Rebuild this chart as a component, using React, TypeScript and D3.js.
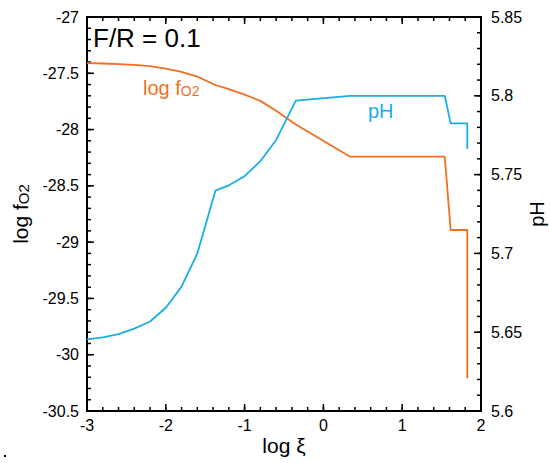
import React from "react";
import * as d3 from "d3";

const xiValues = [-3, -2.8, -2.6, -2.4, -2.2, -2.0, -1.8, -1.6, -1.37, -1.2, -1.0, -0.8, -0.6, -0.35, 0.34, 1.54, 1.615, 1.826, 1.826];
const logFO2Values = [-27.41, -27.413, -27.418, -27.425, -27.437, -27.458, -27.488, -27.53, -27.604, -27.64, -27.69, -27.745, -27.832, -27.955, -28.241, -28.241, -28.892, -28.892, -30.21];
const pHValues = [5.6455, 5.6467, 5.6488, 5.6523, 5.6568, 5.6655, 5.6789, 5.70, 5.7398, 5.7432, 5.749, 5.7585, 5.772, 5.7969, 5.8, 5.8, 5.7825, 5.7825, 5.7662];

const xMajorTicks = [-3, -2, -1, 0, 1, 2];
const xTickLabels = ["-3", "-2", "-1", "0", "1", "2"];
const leftMajorTicks = [-27, -27.5, -28, -28.5, -29, -29.5, -30, -30.5];
const leftTickLabels = ["-27", "-27.5", "-28", "-28.5", "-29", "-29.5", "-30", "-30.5"];
const rightMajorTicks = [5.85, 5.8, 5.75, 5.7, 5.65, 5.6];
const rightTickLabels = ["5.85", "5.8", "5.75", "5.7", "5.65", "5.6"];

const ORANGE = "#F0701F";
const BLUE = "#1AADE6";
const FONT = "'Liberation Sans', Arial, Helvetica, sans-serif";

export default function App() {
  const W = 550, H = 463;
  const L = 87, R = 481, T = 17, B = 411;
  const x = d3.scaleLinear().domain([-3, 2]).range([L, R]);
  const yL = d3.scaleLinear().domain([-30.5, -27]).range([B, T]);
  const yR = d3.scaleLinear().domain([5.6, 5.85]).range([B, T]);

  const idx = d3.range(xiValues.length);
  const fo2Line = d3.line<number>().x(i => x(xiValues[i])).y(i => yL(logFO2Values[i]))(idx) || "";
  const phLine = d3.line<number>().x(i => x(xiValues[i])).y(i => yR(pHValues[i]))(idx) || "";

  const xMinor = d3.range(-3, 2.0001, 0.2).map(v => +v.toFixed(3));
  const leftMinor = d3.range(-30.5, -26.9999, 0.1).map(v => +v.toFixed(3));
  const rightMinor = d3.range(5.6, 5.85001, 0.01).map(v => +v.toFixed(3));

  const MAJ = 7, MIN = 4;
  const tickStyle = { stroke: "#000", strokeWidth: 1.5 };

  return (
    <svg width={W} height={H} style={{ position: "absolute", left: 0, top: 0, background: "#fff" }} fontFamily={FONT}>
      <rect x={0} y={0} width={W} height={H} fill="#fff" />
      {xMinor.map((v, i) => (
        <g key={"xm" + i}>
          <line x1={x(v)} x2={x(v)} y1={B} y2={B - MIN} {...tickStyle} />
          <line x1={x(v)} x2={x(v)} y1={T} y2={T + MIN} {...tickStyle} />
        </g>
      ))}
      {xMajorTicks.map((v, i) => (
        <g key={"xM" + i}>
          <line x1={x(v)} x2={x(v)} y1={B} y2={B - MAJ} {...tickStyle} />
          <line x1={x(v)} x2={x(v)} y1={T} y2={T + MAJ} {...tickStyle} />
          <text x={x(v)} y={B + 20} textAnchor="middle" fontSize={16}>{xTickLabels[i]}</text>
        </g>
      ))}
      {leftMinor.map((v, i) => (
        <line key={"lm" + i} x1={L} x2={L + MIN} y1={yL(v)} y2={yL(v)} {...tickStyle} />
      ))}
      {leftMajorTicks.map((v, i) => (
        <g key={"lM" + i}>
          <line x1={L} x2={L + MAJ} y1={yL(v)} y2={yL(v)} {...tickStyle} />
          <text x={L - 8} y={yL(v) + 5.5} textAnchor="end" fontSize={16}>{leftTickLabels[i]}</text>
        </g>
      ))}
      {rightMinor.map((v, i) => (
        <line key={"rm" + i} x1={R} x2={R - MIN} y1={yR(v)} y2={yR(v)} {...tickStyle} />
      ))}
      {rightMajorTicks.map((v, i) => (
        <g key={"rM" + i}>
          <line x1={R} x2={R - MAJ} y1={yR(v)} y2={yR(v)} {...tickStyle} />
          <text x={R + 10} y={yR(v) + 5.5} textAnchor="start" fontSize={16}>{rightTickLabels[i]}</text>
        </g>
      ))}
      <line x1={L - 1} x2={R + 1} y1={B} y2={B} stroke="#000" strokeWidth={2} />
      <line x1={L - 1} x2={R + 1} y1={T} y2={T} stroke="#000" strokeWidth={2} />
      <line x1={L} x2={L} y1={T} y2={B} stroke="#000" strokeWidth={2} />
      <line x1={R} x2={R} y1={T} y2={B} stroke="#000" strokeWidth={2} />

      <path d={fo2Line} fill="none" stroke={ORANGE} strokeWidth={1.8} strokeLinejoin="round" />
      <path d={phLine} fill="none" stroke={BLUE} strokeWidth={1.8} strokeLinejoin="round" />

      <text x={93} y={47} fontSize={26}>F/R = 0.1</text>
      <text x={143} y={95} fontSize={20} fill={ORANGE}>
        log f<tspan fontSize={14} dy={1}>O2</tspan>
      </text>
      <text x={368} y={118} fontSize={20} fill={BLUE}>pH</text>

      <text x={(L + R) / 2} y={453} textAnchor="middle" fontSize={21}>log ξ</text>
      <text transform={`translate(28, ${(T + B) / 2}) rotate(-90)`} textAnchor="middle" fontSize={21}>
        log f<tspan fontSize={15} dy={1}>O2</tspan>
      </text>
      <text transform={`translate(544, ${(T + B) / 2}) rotate(-90)`} textAnchor="middle" fontSize={20}>pH</text>
      <rect x={4} y={455} width={2} height={2} fill="#000" />
    </svg>
  );
}
